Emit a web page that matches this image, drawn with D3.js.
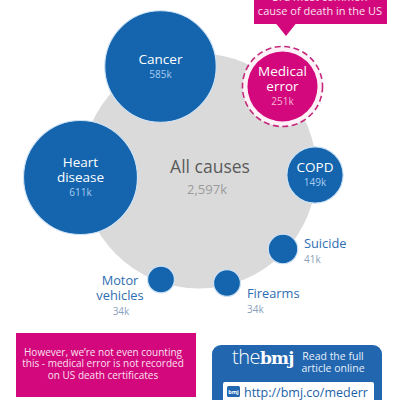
<!DOCTYPE html>
<html><head><meta charset="utf-8">
<script src="https://cdn.jsdelivr.net/npm/d3@7/dist/d3.min.js"></script>
<style>
html,body{margin:0;padding:0;background:#fff;}
svg{display:block;font-family:"Open Sans",sans-serif;}
</style></head>
<body>
<svg id="chart" width="400" height="400"></svg>
<script>
// ---- data ----
const categories = ["All causes","Heart disease","Cancer","Medical error","COPD","Suicide","Firearms","Motor vehicles"];
const values = [2597, 611, 585, 251, 149, 41, 34, 34];   // deaths, thousands
const valueLabels = ["2,597k","611k","585k","251k","149k","41k","34k","34k"];
const calloutTop = ["3rd most common","cause of death in the US"];
const calloutBottom = ["However, we\u2019re not even counting","this - medical error is not recorded","on US death certificates"];

// ---- layout (positions only) ----
const layout = {
  "All causes":    {cx:199, cy:171, label:"center", lx:210, ly:173},
  "Heart disease": {cx:80.5, cy:177.5, label:"inside"},
  "Cancer":        {cx:160.5, cy:66.5, label:"inside"},
  "Medical error": {cx:282.5, cy:86.5, label:"inside"},
  "COPD":          {cx:315, cy:175, label:"inside"},
  "Suicide":       {cx:283, cy:249, label:"right", lx:304, ly:248},
  "Firearms":      {cx:227, cy:283, label:"right", lx:247, ly:298},
  "Motor vehicles":{cx:161, cy:279.5, label:"left", lx:120, ly:285}
};
const lineBreaks = {"Heart disease":["Heart","disease"],"Medical error":["Medical","error"],"Motor vehicles":["Motor","vehicles"]};

const BLUE="#1465ae", PINK="#d2087c", GRAY="#dadada";

const svg = d3.select("#chart");
const r = d3.scaleSqrt().domain([0, d3.max(values)]).range([0, 117.5]);
const nodes = categories.map((c,i)=>({name:c, value:values[i], vlabel:valueLabels[i], ...layout[c]}));

// big gray circle
const all = nodes[0];
svg.append("circle").attr("cx",all.cx).attr("cy",all.cy).attr("r",r(all.value)).attr("fill",GRAY);

// top callout
const cg = svg.append("g");
cg.append("rect").attr("x",254).attr("y",-10).attr("width",133).attr("height",34).attr("fill",PINK);
cg.append("path").attr("d","M276,23.5 L296,23.5 L286,36 Z").attr("fill",PINK);
cg.selectAll("text").data(calloutTop).join("text")
  .attr("x",320).attr("y",(d,i)=>1+i*13.5).attr("text-anchor","middle")
  .attr("font-size",11).attr("fill","#fbe0ef").text(d=>d);

// medical error ring
const me = nodes.find(d=>d.name==="Medical error");
svg.append("circle").attr("cx",me.cx).attr("cy",me.cy).attr("r",r(me.value)+3.5)
  .attr("fill","#fdf1f7").attr("stroke","#c42a7c").attr("stroke-width",1.6).attr("stroke-dasharray","6,3.5");

// colored circles
const small = nodes.slice(1);
svg.selectAll("circle.node").data(small).join("circle").attr("class","node")
  .attr("cx",d=>d.cx).attr("cy",d=>d.cy)
  .attr("r",d=>d.name==="Medical error" ? r(d.value)-1.5 : r(d.value))
  .attr("fill",d=>d.name==="Medical error"?PINK:BLUE)
  .attr("stroke",d=>d.name==="Medical error"?"none":"#cfe2f4").attr("stroke-width",1.2);

// labels
nodes.forEach(d=>{
  const lines = lineBreaks[d.name] || [d.name];
  if(d.label==="center"){
    svg.append("text").attr("x",d.lx).attr("y",d.ly).attr("text-anchor","middle")
      .attr("font-size",17.5).attr("fill","#5a5a5a").text(d.name);
    svg.append("text").attr("x",d.lx-3).attr("y",d.ly+21).attr("text-anchor","middle")
      .attr("font-size",13).attr("fill","#9a9a9a").text(d.vlabel);
  } else if(d.label==="inside"){
    const fs = 13.5, lh = 15;
    const n = lines.length;
    const y0 = d.cy - 2 - (n-1)*lh/2 - 1;
    const isPink = d.name==="Medical error";
    lines.forEach((t,i)=>{
      svg.append("text").attr("x",d.cx).attr("y",y0+i*lh).attr("text-anchor","middle")
        .attr("font-size",fs).attr("fill","#ffffff").text(t);
    });
    svg.append("text").attr("x",d.cx).attr("y",y0+(n-1)*lh+14).attr("text-anchor","middle")
      .attr("font-size",10).attr("fill",isPink?"#f6b6d8":"#a9cbee").text(d.vlabel);
  } else {
    const anchor = d.label==="left" ? "middle" : "start";
    lines.forEach((t,i)=>{
      svg.append("text").attr("x",d.lx).attr("y",d.ly+i*14.5).attr("text-anchor",anchor)
        .attr("font-size",12.8).attr("fill","#2d6db3").text(t);
    });
    svg.append("text").attr("x",d.lx+(d.label==="left"?1:0)).attr("y",d.ly+(lines.length-1)*14.5+15)
      .attr("text-anchor",anchor).attr("font-size",10).attr("fill","#8aa2bd").text(d.vlabel);
  }
});

// bottom pink box
svg.append("rect").attr("x",16).attr("y",333).attr("width",180).attr("height",64).attr("fill",PINK);
svg.selectAll("text.cb").data(calloutBottom).join("text").attr("class","cb")
  .attr("x",103).attr("y",(d,i)=>355.5+i*11.5).attr("text-anchor","middle")
  .attr("font-size",10).attr("fill","#fbe0ef").text(d=>d);

// bmj box
svg.append("rect").attr("x",212).attr("y",345).attr("width",170).attr("height",70).attr("rx",9).attr("fill","#2266b0");
const logo = svg.append("text").attr("x",232).attr("y",364).attr("fill","#fff");
logo.append("tspan").attr("font-family","'Open Sans',sans-serif").attr("font-weight",300).attr("font-size",20).attr("letter-spacing",-0.5).text("the");
logo.append("tspan").attr("font-family","'DejaVu Serif',serif").attr("font-weight",700).attr("font-size",17).attr("letter-spacing",-0.8).text("bmj");
svg.append("text").attr("x",333).attr("y",360).attr("text-anchor","middle").attr("font-size",10.5).attr("fill","#e6f0fb").text("Read the full");
svg.append("text").attr("x",333).attr("y",372).attr("text-anchor","middle").attr("font-size",10.5).attr("fill","#e6f0fb").text("article online");
svg.append("rect").attr("x",223).attr("y",382).attr("width",151).attr("height",30).attr("rx",2).attr("fill","#fff");
svg.append("rect").attr("x",227).attr("y",386).attr("width",13).attr("height",11).attr("rx",1.5).attr("fill","#2266b0");
svg.append("text").attr("x",233.5).attr("y",394).attr("text-anchor","middle").attr("font-size",5.5).attr("font-weight",700).attr("fill","#fff").text("bmj");
svg.append("text").attr("x",244).attr("y",397).attr("font-size",12.5).attr("fill","#1c5fa8").text("http://bmj.co/mederr");
</script>
</body></html>
